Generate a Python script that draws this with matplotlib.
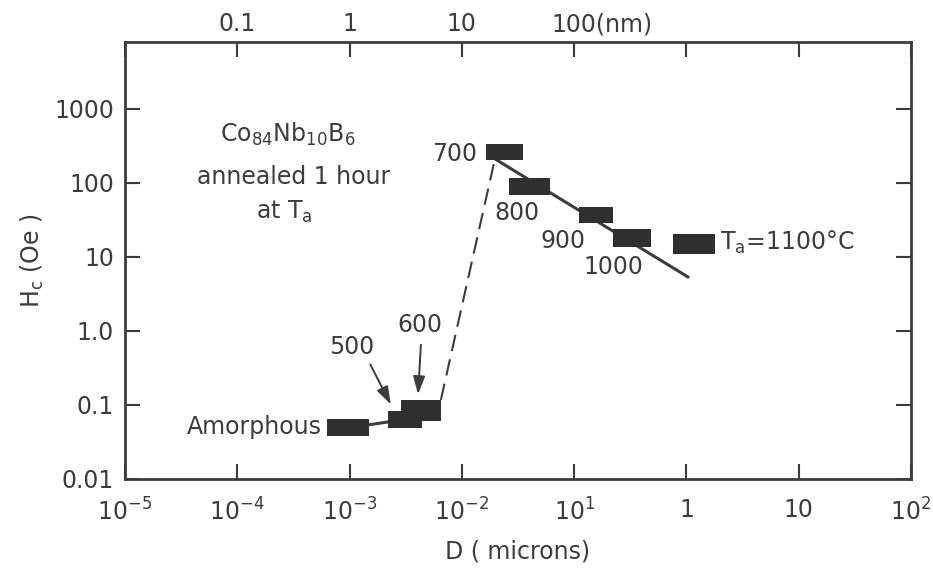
import matplotlib.pyplot as plt
from matplotlib.patches import Rectangle
import matplotlib.ticker as ticker

plt.rcParams['font.family'] = ['DejaVu Sans']
plt.rcParams['mathtext.default'] = 'regular'
INK = '#3c3c3c'

# Annealing temperature boxes: grain size D (microns) and coercivity Hc (Oe)
temps = ['Amorphous', '500', '600', '700', '800', '900', '1000', '1100']
d_min = [6.3e-4, 2.2e-3, 2.9e-3, 0.0164, 0.0263, 0.110, 0.222, 0.76]
d_max = [1.49e-3, 4.4e-3, 6.5e-3, 0.035, 0.061, 0.222, 0.483, 1.79]
hc_min = [0.038, 0.049, 0.061, 205, 69, 28.8, 13.6, 11.0]
hc_max = [0.065, 0.083, 0.117, 336, 117, 47.4, 23.9, 20.5]

# guide lines
fit_d = [0.0197, 1.03]
fit_hc = [211, 5.37]
jump_d = [6.5e-3, 0.0197]
jump_hc = [0.117, 211]
link_d = [1.49e-3, 2.2e-3]
link_hc = [0.054, 0.059]

# arrows pointing at 500 and 600 boxes
arrow_start_d = [1.49e-3, 4.33e-3]
arrow_start_hc = [0.381, 0.71]
arrow_tip_d = [2.39e-3, 4.06e-3]
arrow_tip_hc = [0.094, 0.128]

x_ticks = [1e-5, 1e-4, 1e-3, 1e-2, 1e-1, 1, 10, 100]
x_labels = ['10$^{-5}$', '10$^{-4}$', '10$^{-3}$', '10$^{-2}$', '10$^{1}$', '1', '10', '10$^{2}$']
top_ticks = [1e-4, 1e-3, 1e-2, 1e-1]
top_labels = ['0.1', '1', '10', '100(nm)']
y_ticks = [0.01, 0.1, 1, 10, 100, 1000]
y_labels = ['0.01', '0.1', '1.0', '10', '100', '1000']

fig = plt.figure(figsize=(9.33, 5.78), dpi=100)
ax = fig.add_axes([0.134, 0.1713, 0.8424, 0.756])
ax.set_xscale('log')
ax.set_yscale('log')
ax.set_xlim(1e-5, 1e2)
ax.set_ylim(0.01, 8000)

for x0, x1, y0, y1 in zip(d_min, d_max, hc_min, hc_max):
    ax.add_patch(Rectangle((x0, y0), x1 - x0, y1 - y0, facecolor='#2f2f2f',
                           edgecolor='none', zorder=3))

ax.plot(fit_d, fit_hc, color=INK, lw=2.2, zorder=2)
ax.plot(link_d, link_hc, color=INK, lw=2.2, zorder=2)
ax.plot(jump_d, jump_hc, color=INK, lw=1.5, dashes=(8, 4), zorder=2)

for xs, ys, xt, yt in zip(arrow_start_d, arrow_start_hc, arrow_tip_d, arrow_tip_hc):
    ax.annotate('', xy=(xt, yt), xytext=(xs, ys),
                arrowprops=dict(arrowstyle='-|>,head_length=0.9,head_width=0.3',
                                color=INK, lw=1.4, mutation_scale=12))

fs = 17
tk = dict(color=INK, fontsize=fs)
ax.text(5.7e-4, 0.050, 'Amorphous', ha='right', va='center', **tk)
ax.text(1.05e-3, 0.61, '500', ha='center', va='center', **tk)
ax.text(4.24e-3, 1.2, '600', ha='center', va='center', **tk)
ax.text(0.0136, 247, '700', ha='right', va='center', **tk)
ax.text(0.031, 39, '800', ha='center', va='center', **tk)
ax.text(0.079, 16.4, '900', ha='center', va='center', **tk)
ax.text(0.222, 7.3, '1000', ha='center', va='center', **tk)
ax.text(1.99, 15.5, 'T$_{a}$=1100°C', ha='left', va='center', **tk)

ax.text(2.8e-4, 446, 'Co$_{84}$Nb$_{10}$B$_{6}$', ha='center', va='center', **tk)
ax.text(3.2e-4, 120, 'annealed 1 hour', ha='center', va='center', **tk)
ax.text(2.6e-4, 41, 'at T$_{a}$', ha='center', va='center', **tk)

ax.xaxis.set_major_locator(ticker.FixedLocator(x_ticks))
ax.xaxis.set_major_formatter(ticker.FixedFormatter(x_labels))
ax.xaxis.set_minor_locator(ticker.NullLocator())
ax.yaxis.set_major_locator(ticker.FixedLocator(y_ticks))
ax.yaxis.set_major_formatter(ticker.FixedFormatter(y_labels))
ax.yaxis.set_minor_locator(ticker.NullLocator())
ax.tick_params(which='major', direction='in', length=11, width=1.5, color=INK,
               top=True, right=True, labelsize=fs, labelcolor=INK)
ax.tick_params(axis='x', pad=14)
ax.tick_params(axis='y', pad=8)

for xv, s in zip(top_ticks, top_labels):
    off = -16 if s.endswith('(nm)') else 0
    ax.annotate(s, xy=(xv, 1.0), xycoords=('data', 'axes fraction'),
                xytext=(off, 4), textcoords='offset points',
                ha='left' if off else 'center', va='bottom', **tk)

for sp in ax.spines.values():
    sp.set_linewidth(2.0)
    sp.set_color(INK)

ax.set_xlabel('D ( microns)', fontsize=fs, color=INK, labelpad=10)
ax.set_ylabel('H$_{c}$ (Oe )', fontsize=fs, color=INK, labelpad=6)

fig.savefig('out.png', dpi=100)
